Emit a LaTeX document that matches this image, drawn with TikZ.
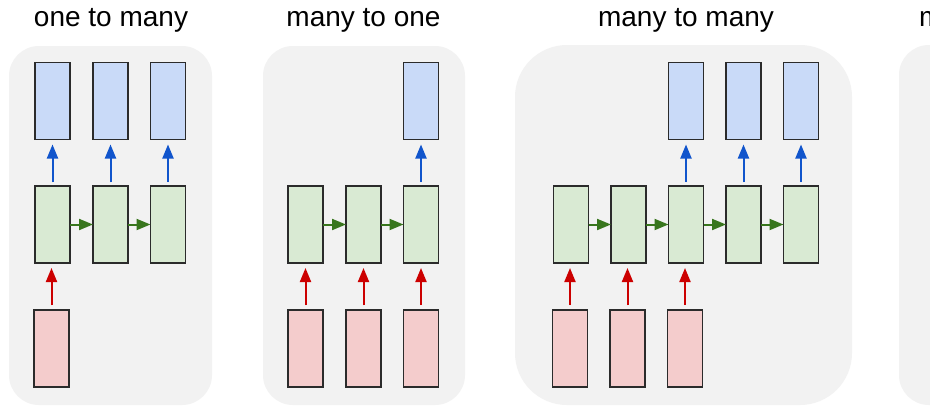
\documentclass[tikz,border=0pt]{standalone}
\usepackage{fontspec}
\setmainfont{Liberation Sans}
\usetikzlibrary{arrows.meta}
\definecolor{panelbg}{HTML}{F2F2F2}
\definecolor{outblue}{HTML}{C9DAF8}
\definecolor{hidgreen}{HTML}{D9EAD3}
\definecolor{inred}{HTML}{F4CCCC}
\definecolor{arrblue}{HTML}{1155CC}
\definecolor{arrgreen}{HTML}{38761D}
\definecolor{arrred}{HTML}{CC0000}
\definecolor{boxedge}{HTML}{2B2B2B}
\tikzset{
  cell/.style={draw=boxedge, line width=1.6pt, minimum width=35pt, minimum height=77pt, inner sep=0pt, outer sep=0pt},
  outbox/.style={cell, fill=outblue},
  hidbox/.style={cell, fill=hidgreen},
  inbox/.style={cell, fill=inred},
  tip/.style={-{Triangle[length=14pt,width=11pt]}},
  upblue/.style={tip, draw=arrblue, fill=arrblue, line width=2pt, shorten <=4pt, shorten >=5pt},
  upred/.style={tip, draw=arrred, fill=arrred, line width=2pt, shorten <=5pt, shorten >=5pt},
  rgreen/.style={tip, draw=arrgreen, fill=arrgreen, line width=2pt},
  panel/.style={fill=panelbg, draw=none},
  title/.style={font=\fontsize{28}{32}\selectfont, anchor=base, inner sep=0pt}
}
\begin{document}
\begin{tikzpicture}[x=1pt,y=-1pt]
\useasboundingbox (0,0) rectangle (930,416);
\clip (0,0) rectangle (930,416);
\fill[white] (0,0) rectangle (930,416);
% panels
\fill[panel, rounded corners=30pt] (9,46) rectangle (212,405);
\fill[panel, rounded corners=30pt] (263,46) rectangle (465,405);
\fill[panel, rounded corners=52pt] (515,45) rectangle (852,405);
\fill[panel, rounded corners=30pt] (899,45) rectangle (1100,405);
% titles
\node[title] (t1) at (111,26) {one to many};
\node[title] (t2) at (363.5,26) {many to one};
\node[title] (t3) at (686,26) {many to many};
\node[title, anchor=base west] (t4) at (919,26) {m};

% ---- panel 1: one to many
\node[outbox] (a1o1) at (52.5,101) {};
\node[outbox] (a1o2) at (110.5,101) {};
\node[outbox] (a1o3) at (168,101) {};
\node[hidbox] (a1h1) at (52.5,224.5) {};
\node[hidbox] (a1h2) at (110.5,224.5) {};
\node[hidbox] (a1h3) at (168,224.5) {};
\node[inbox] (a1i1) at (51.5,348.5) {};
\draw[upblue] (a1h1) -- (a1o1);
\draw[upblue] (a1h2) -- (a1o2);
\draw[upblue] (a1h3) -- (a1o3);
\draw[rgreen] (a1h1) -- (a1h2);
\draw[rgreen] (a1h2) -- (a1h3);
\draw[upred] (a1i1) -- (a1i1 |- a1h1.south);

% ---- panel 2: many to one
\node[outbox] (b1o3) at (421,101) {};
\node[hidbox] (b1h1) at (305.5,224.5) {};
\node[hidbox] (b1h2) at (363.5,224.5) {};
\node[hidbox] (b1h3) at (421,224.5) {};
\node[inbox] (b1i1) at (305.5,348.5) {};
\node[inbox] (b1i2) at (363.5,348.5) {};
\node[inbox] (b1i3) at (421,348.5) {};
\draw[upblue] (b1h3) -- (b1o3);
\draw[rgreen] (b1h1) -- (b1h2);
\draw[rgreen] (b1h2) -- (b1h3);
\draw[upred] (b1i1) -- (b1h1);
\draw[upred] (b1i2) -- (b1h2);
\draw[upred] (b1i3) -- (b1h3);

% ---- panel 3: many to many
\node[outbox] (c1o3) at (686,101) {};
\node[outbox] (c1o4) at (743.5,101) {};
\node[outbox] (c1o5) at (801,101) {};
\node[hidbox] (c1h1) at (571,224.5) {};
\node[hidbox] (c1h2) at (628.5,224.5) {};
\node[hidbox] (c1h3) at (686,224.5) {};
\node[hidbox] (c1h4) at (743.5,224.5) {};
\node[hidbox] (c1h5) at (801,224.5) {};
\node[inbox] (c1i1) at (570,348.5) {};
\node[inbox] (c1i2) at (627.5,348.5) {};
\node[inbox] (c1i3) at (685,348.5) {};
\draw[upblue] (c1h3) -- (c1o3);
\draw[upblue] (c1h4) -- (c1o4);
\draw[upblue] (c1h5) -- (c1o5);
\draw[rgreen] (c1h1) -- (c1h2);
\draw[rgreen] (c1h2) -- (c1h3);
\draw[rgreen] (c1h3) -- (c1h4);
\draw[rgreen] (c1h4) -- (c1h5);
\draw[upred] (c1i1) -- (c1i1 |- c1h1.south);
\draw[upred] (c1i2) -- (c1i2 |- c1h2.south);
\draw[upred] (c1i3) -- (c1i3 |- c1h3.south);
\end{tikzpicture}
\end{document}
